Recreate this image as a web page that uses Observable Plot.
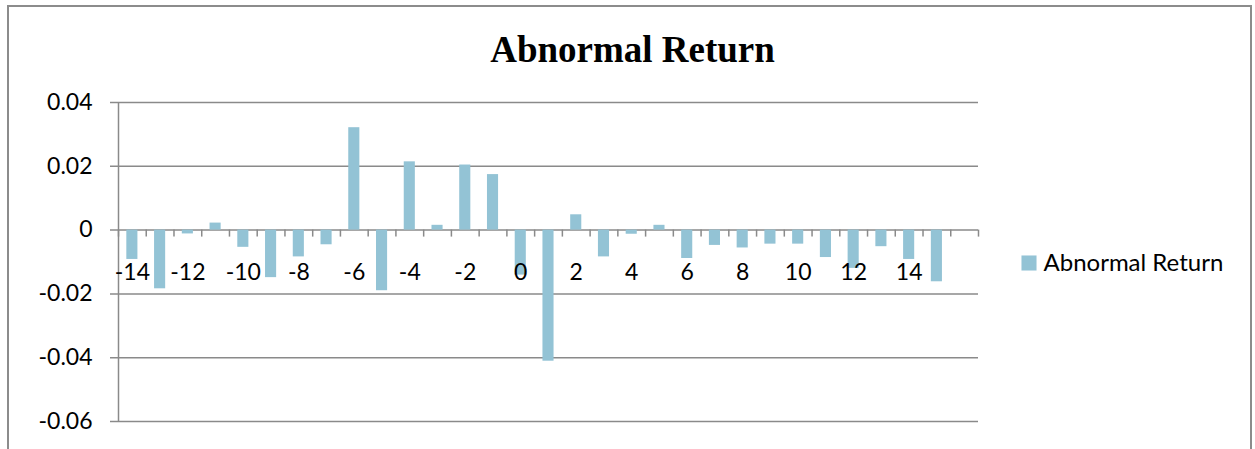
<!DOCTYPE html>
<html>
<head>
<meta charset="utf-8">
<script src="https://cdn.jsdelivr.net/npm/d3@7"></script>
<script src="https://cdn.jsdelivr.net/npm/@observablehq/plot@0.6"></script>
<style>
  html, body { margin: 0; padding: 0; background: #fff; overflow: hidden; }
  #chart { position: relative; width: 1255px; height: 449px; overflow: hidden; background: #fff; }
  #frame { position: absolute; left: 7px; top: 5px; width: 1245px; height: 600px;
           border: 2px solid #8c8c8c; box-sizing: border-box; }
  #chart svg { position: absolute; left: 0; top: 0; }
</style>
</head>
<body>
<div id="chart"><div id="frame"></div></div>
<script>
// Event-window days and the abnormal return on each day
const days = [-14, -13, -12, -11, -10, -9, -8, -7, -6, -5, -4, -3, -2, -1, 0,
              1, 2, 3, 4, 5, 6, 7, 8, 9, 10, 11, 12, 13, 14, 15];
const returns = [-0.0092, -0.0184, -0.0012, 0.0022, -0.0054, -0.0149, -0.0084, -0.0046,
                 0.0321, -0.0190, 0.0214, 0.0015, 0.0204, 0.0174, -0.0141,
                 -0.0411, 0.0048, -0.0084, -0.0013, 0.0015, -0.0089, -0.0048, -0.0056,
                 -0.0044, -0.0044, -0.0086, -0.0120, -0.0052, -0.0092, -0.0162];

// Axis ticks and their labels
const yTicks = [-0.06, -0.04, -0.02, 0, 0.02, 0.04];
const yTickLabels = ["-0.06", "-0.04", "-0.02", "0", "0.02", "0.04"];
const xLabelDays = [-14, -12, -10, -8, -6, -4, -2, 0, 2, 4, 6, 8, 10, 12, 14];
const xLabels = ["-14", "-12", "-10", "-8", "-6", "-4", "-2", "0", "2", "4", "6", "8", "10", "12", "14"];

const title = "Abnormal Return";
const seriesName = "Abnormal Return";

// Table for the bar mark
const table = days.map((day, i) => ({day, value: returns[i]}));

// Category slots: each day occupies one unit, bars fill 40% of it;
// the axis keeps one empty slot after the last day
const half = 0.5;
const barHalf = 0.2;
const emptySlots = 1;
const xMin = days[0] - half;
const xMax = days[days.length - 1] + emptySlots + half;
const edges = d3.range(xMin, xMax + 0.001, 1);

const barColor = "#93c3d5";
const lineColor = "#8a8a8a";

const chart = Plot.plot({
  width: 1255,
  height: 449,
  marginLeft: 118,
  marginRight: 277,
  marginTop: 102,
  marginBottom: 28,
  style: {fontFamily: "Lato, 'Open Sans', sans-serif", fontSize: "23px", color: "#000", background: "transparent", overflow: "visible"},
  x: {domain: [xMin, xMax], axis: null},
  y: {domain: [yTicks[0], yTicks[yTicks.length - 1]], axis: null},
  marks: [
    // horizontal gridlines, each with a short tick left of the axis
    Plot.ruleY(yTicks, {y: d => d, x1: xMin, x2: xMax, insetLeft: -8, stroke: lineColor, strokeWidth: 1.5}),
    // vertical value axis
    Plot.ruleX([xMin], {stroke: lineColor, strokeWidth: 1.5}),
    // bars
    Plot.rect(table, {x1: d => d.day - barHalf, x2: d => d.day + barHalf, y1: 0, y2: "value", fill: barColor}),
    // category tick marks hanging below the zero line
    Plot.ruleX(edges, {x: d => d, y1: 0, y2: 0, insetBottom: -7, stroke: lineColor, strokeWidth: 1.5}),
    // value labels
    Plot.text(yTicks, {y: d => d, x: xMin, dx: -26, textAnchor: "end", lineAnchor: "middle",
                       text: (d, i) => yTickLabels[i], fill: "#000"}),
    // category labels
    Plot.text(xLabelDays, {x: d => d, y: 0, dy: 43, textAnchor: "middle", lineAnchor: "middle",
                           text: (d, i) => xLabels[i], fill: "#000"}),
    // title
    Plot.text([title], {frameAnchor: "top", dx: 84, dy: -41, lineAnchor: "bottom", text: d => d,
                        fontFamily: "'Liberation Serif', 'Times New Roman', serif", fontWeight: "bold",
                        fontSize: 37, fill: "#000"}),
    // legend
    Plot.dot([seriesName], {frameAnchor: "right", dx: 50.5, dy: 1, symbol: "square", r: 8.5,
                            fill: barColor, stroke: null}),
    Plot.text([seriesName], {frameAnchor: "right", dx: 65, dy: 8.5, textAnchor: "start", lineAnchor: "bottom",
                             text: d => d, fill: "#000", fontSize: 24})
  ]
});

document.getElementById("chart").appendChild(chart);
</script>
</body>
</html>
